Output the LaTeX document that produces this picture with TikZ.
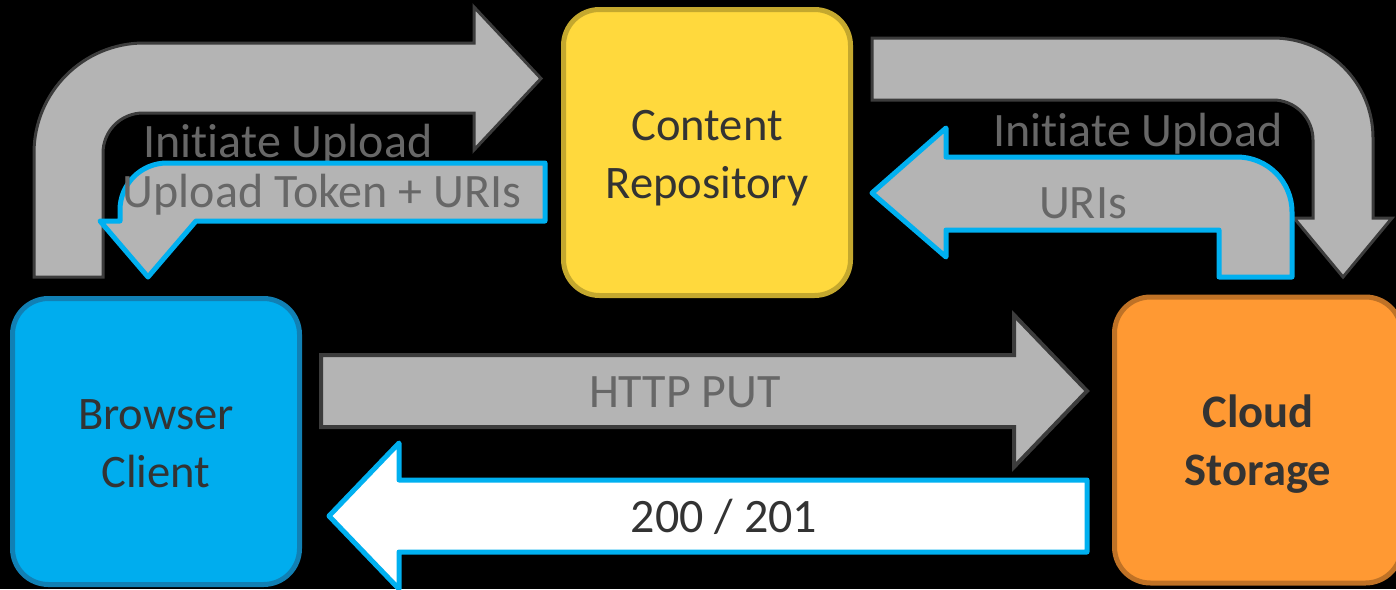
\documentclass[tikz,border=0pt]{standalone}
\usepackage{fontspec}
\setmainfont{Carlito}[Ligatures={NoCommon,NoRare,NoContextual}]
\definecolor{arrowgray}{HTML}{B4B4B4}
\definecolor{arrowedge}{HTML}{3C3C3C}
\definecolor{cyanline}{HTML}{00B0F0}
\definecolor{labelgray}{HTML}{676767}
\definecolor{boxtext}{HTML}{333333}
\definecolor{bluefill}{HTML}{00ADEE}
\definecolor{blueedge}{HTML}{1180B4}
\definecolor{yellowfill}{HTML}{FFD93D}
\definecolor{yellowedge}{HTML}{C4A82E}
\definecolor{orangefill}{HTML}{FF9933}
\definecolor{orangeedge}{HTML}{BF7226}
\begin{document}
\begin{tikzpicture}[x=0.5pt,y=-0.5pt,
  box/.style={rounded corners=18pt, line width=2.5pt, minimum width=143.5pt,
    minimum height=143pt, inner sep=0pt},
  boxtxt/.style={inner sep=0pt, align=center, text=boxtext,
    font=\fontsize{23.3}{29}\selectfont},
  grayarrow/.style={fill=arrowgray, draw=arrowedge, line width=1.5pt, line join=miter},
  cyanarrow/.style={fill=arrowgray, draw=cyanline, line width=2.5pt, line join=round},
  lbl/.style={anchor=base, inner sep=0pt, text=labelgray, font=\fontsize{24}{28}\selectfont}]
\useasboundingbox (0,0) rectangle (1396,589);
\clip (0,0) rectangle (1396,589);
\fill[black] (0,0) rectangle (1396,589);

% nodes
\node[box, fill=bluefill, draw=blueedge] (browser) at (156,441.5) {};
\node[boxtxt] (browsertxt) at (156,443.5) {Browser\\Client};
\node[box, fill=yellowfill, draw=yellowedge] (repo) at (707,152.5) {};
\node[boxtxt] (repotxt) at (707,158.5) {Content\\Repository};
\node[box, fill=orangefill, draw=orangeedge] (cloud) at (1258,440) {};
\node[boxtxt, font=\fontsize{23.3}{29}\selectfont\bfseries] (cloudtxt) at (1258,444) {Cloud\\Storage};

% top-left: Initiate Upload (browser -> repository)
\draw[grayarrow] (34,277) -- (34,153) .. controls (34,92.2) and (83.2,43) .. (144,43)
  -- (474,43) -- (474,7) -- (541,78.5) -- (474,150) -- (474,113) -- (143,113)
  .. controls (120.9,113) and (103,130.9) .. (103,153) -- (103,277) -- cycle;
\node[lbl] (l1) at (288,157) {Initiate Upload};

% Upload Token + URIs (repository -> browser)
\draw[cyanarrow] (545,163) -- (167,163) .. controls (141,163) and (120,184) .. (120,210)
  -- (120,221) -- (100,221) -- (148,277) -- (196,221) -- (545,221) -- cycle;
\node[lbl] (l2) at (322,207) {Upload Token + URIs};

% top-right: Initiate Upload (repository -> cloud)
\draw[grayarrow] (872,38) -- (1273,38) .. controls (1328.2,38) and (1373,82.8) .. (1373,138)
  -- (1373,218) -- (1392,218) -- (1343,277) -- (1294,218) -- (1313,218) -- (1313,140)
  .. controls (1313,117.9) and (1295.1,100) .. (1273,100) -- (872,100) -- cycle;
\node[lbl] (l3) at (1138,146) {Initiate Upload};

% URIs (cloud -> repository)
\draw[cyanarrow] (1219,277) -- (1219,230) -- (946,230) -- (946,257) -- (872,193)
  -- (946,128) -- (946,157) -- (1237,157) .. controls (1267.4,157) and (1292,181.6) .. (1292,212)
  -- (1292,277) -- cycle;
\node[lbl] (l4) at (1083,218) {URIs};

% HTTP PUT (browser -> cloud)
\draw[grayarrow, line width=2pt] (321,355) -- (1014,355) -- (1014,315) -- (1087,391)
  -- (1014,467) -- (1014,427) -- (321,427) -- cycle;
\node[lbl] (l5) at (685,407) {HTTP PUT};

% 200 / 201 (cloud -> browser)
\draw[fill=white, draw=cyanline, line width=2.5pt, line join=round] (1087,480) -- (399,480)
  -- (399,443) -- (329,516) -- (399,589) -- (399,552) -- (1087,552) -- cycle;
\node[lbl, text=boxtext] (l6) at (724,532) {200 / 201};
\end{tikzpicture}
\end{document}
